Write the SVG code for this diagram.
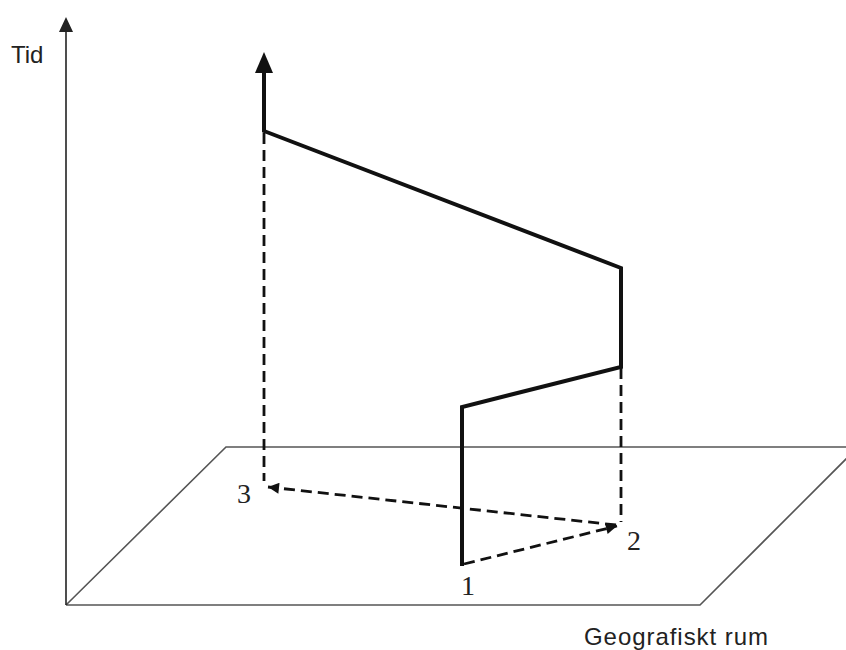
<svg xmlns="http://www.w3.org/2000/svg" width="846" height="650" viewBox="0 0 846 650">
<style>
.thin{fill:none;stroke:#555;stroke-width:1.6}
.axis{fill:none;stroke:#222;stroke-width:1.6}
.thick{fill:none;stroke:#111;stroke-width:4;stroke-linejoin:miter}
.dash{fill:none;stroke:#111;stroke-width:2.8;stroke-dasharray:11,6}
.lbl{font-family:"Liberation Sans",Arial,sans-serif;font-size:24px;fill:#222}
.num{font-family:"Liberation Serif","Times New Roman",serif;font-size:28px;fill:#222}
</style>
<defs>
<marker id="ah" viewBox="0 0 10 10" refX="10" refY="5" markerWidth="13" markerHeight="11" markerUnits="userSpaceOnUse" orient="auto"><path d="M0,0 L10,5 L0,10 z" fill="#111"/></marker>
</defs>
<rect width="846" height="650" fill="#fff"/>
<g id="plane">
<polyline class="thin" points="66,605 700,605 858,447 226,447 66,605"/>
</g>
<g id="time-axis">
<line class="axis" x1="66" y1="605" x2="66" y2="30"/>
<polygon points="66,17 59,32 73,32" fill="#222"/>
<text class="lbl" x="11" y="63">Tid</text>
</g>
<g id="space-label">
<text class="lbl" x="584" y="645" textLength="184">Geografiskt rum</text>
</g>
<g id="connectors">
<line class="dash" x1="264" y1="133" x2="264" y2="481"/>
<line class="dash" x1="621" y1="368" x2="621" y2="522"/>
<line class="dash" x1="616" y1="525" x2="268" y2="487" marker-end="url(#ah)"/>
<line class="dash" x1="464" y1="564" x2="617" y2="526" marker-end="url(#ah)"/>
<polyline class="thick" points="462,566 462,407 621,367 621,268 264,131 264,70"/>
<polygon points="264,52 255,73 273,73" fill="#111"/>
</g>
<g id="node-1"><text class="num" x="461" y="595">1</text></g>
<g id="node-2"><text class="num" x="627" y="550">2</text></g>
<g id="node-3"><text class="num" x="237" y="503">3</text></g>
</svg>
